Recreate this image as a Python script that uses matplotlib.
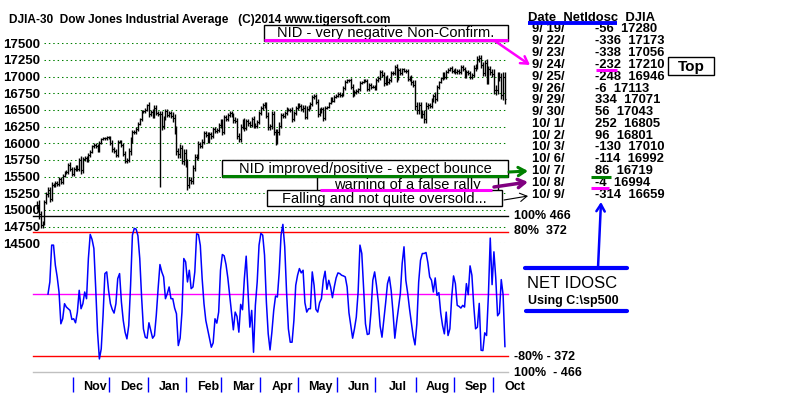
import numpy as np
import matplotlib.pyplot as plt
from matplotlib.patches import Rectangle

plt.rcParams['font.family'] = ['Liberation Sans', 'DejaVu Sans']

# DJIA daily closes, one list per month (Oct 4 2013 .. Oct 9 2014)
djia_oct13 = [15073, 14936, 14776, 14802, 15126, 15237, 15301, 15168, 15373, 15372,
              15399, 15392, 15468, 15413, 15509, 15570, 15568, 15680, 15618, 15546]
djia_nov13 = [15616, 15639, 15618, 15747, 15594, 15761, 15784, 15751, 15822, 15876,
              15962, 15976, 15967, 15901, 16010, 16065, 16073, 16073, 16097, 16086]
djia_dec13 = [16008, 15914, 15889, 15821, 16020, 16025, 15973, 15843, 15739, 15755,
              15885, 16029, 16168, 16167, 16221, 16294, 16358, 16479, 16479, 16505, 16577]
djia_jan14 = [16441, 16470, 16425, 16530, 16462, 16444, 16437, 16257, 16374, 16481,
              16418, 16459, 16415, 16373, 16197, 15879, 15837, 15929, 15739, 15849, 15699]
djia_feb14 = [15373, 15445, 15440, 15629, 15795, 15802, 15994, 15964, 16027, 16154,
              16130, 16040, 16133, 16104, 16208, 16180, 16198, 16273, 16322]
djia_mar14 = [16168, 16396, 16361, 16422, 16453, 16419, 16351, 16340, 16109, 16066,
              16248, 16337, 16223, 16332, 16303, 16277, 16368, 16268, 16264, 16323, 16458]
djia_apr14 = [16533, 16573, 16573, 16413, 16246, 16257, 16438, 16170, 16027, 16174,
              16263, 16425, 16409, 16449, 16514, 16502, 16501, 16361, 16448, 16535, 16581]
djia_may14 = [16559, 16513, 16531, 16402, 16518, 16551, 16583, 16696, 16715, 16614,
              16447, 16492, 16512, 16375, 16533, 16543, 16606, 16676, 16633, 16698, 16717]
djia_jun14 = [16744, 16722, 16737, 16837, 16924, 16944, 16946, 16844, 16735, 16776,
              16782, 16809, 16907, 16922, 16948, 16938, 16819, 16868, 16847, 16852, 16827]
djia_jul14 = [16957, 16976, 17068, 17025, 16906, 16985, 16915, 16944, 17055, 17061,
              17138, 16977, 17100, 17052, 17114, 17087, 17083, 16961, 16983, 16913, 16881, 16563]
djia_aug14 = [16493, 16570, 16430, 16444, 16369, 16554, 16570, 16561, 16652, 16713,
              16662, 16839, 16920, 16980, 17040, 17001, 17077, 17107, 17123, 17080, 17098]
djia_sep14 = [17068, 17079, 17070, 17138, 17112, 17014, 17068, 17050, 16988, 17032,
              17132, 17157, 17266, 17280, 17173, 17056, 17210, 16946, 17113, 17071, 17043]
djia_oct14 = [16805, 16801, 17010, 16992, 16719, 16994, 16659]

# extra daily range beyond open/close (points)
spread = [60, 70, 50, 40, 30, 40, 40, 50, 40, 30, 30, 30, 30, 30, 30, 20, 30, 30, 40, 30,
          30, 30, 30, 30, 60, 40, 20, 30, 30, 30, 20, 30, 30, 30, 30, 20, 20, 20, 20, 20,
          30, 40, 30, 30, 30, 20, 30, 30, 40, 30, 40, 60, 30, 30, 30, 30, 20, 20, 20, 20, 20,
          40, 30, 40, 40, 40, 30, 40, 50, 40, 30, 30, 30, 30, 50, 60, 60, 50, 60, 50, 60, 60,
          70, 50, 50, 50, 40, 40, 40, 30, 40, 30, 30, 40, 30, 40, 30, 30, 30, 30, 40,
          40, 30, 30, 30, 30, 30, 40, 40, 40, 40, 40, 30, 40, 30, 40, 30, 30, 40, 40, 30, 30,
          30, 30, 40, 40, 50, 40, 40, 50, 50, 40, 50, 30, 30, 30, 30, 20, 30, 40, 30, 30, 30,
          30, 30, 40, 40, 40, 30, 30, 30, 30, 30, 50, 40, 30, 40, 30, 20, 20, 20, 20, 20, 20,
          20, 20, 20, 30, 30, 20, 20, 30, 40, 30, 30, 20, 30, 20, 20, 20, 30, 30, 30, 20, 20,
          20, 30, 30, 30, 40, 30, 40, 30, 30, 30, 40, 50, 30, 30, 20, 20, 30, 30, 30, 40, 40, 70,
          60, 50, 50, 50, 60, 60, 40, 30, 30, 30, 50, 30, 20, 20, 30, 30, 30, 20, 20, 30, 20,
          30, 30, 30, 30, 30, 40, 30, 30, 30, 30, 40, 40, 40, 40, 40, 40, 40, 50, 50, 50, 50,
          70, 70, 60, 60, 60, 70, 70]
spike_day = 67      # Jan 10 bad print
spike_low = 15350

# Net IDOSC oscillator (first days not yet defined)
nan = float('nan')
osc_head = [nan, nan, nan, nan, nan, nan,
            0, 72, 292, 292, 172, 102, 12, -178, -148, -58,
            -78, -88, -98, -152, -148, -172, -108, 22, -88, -58,
            12, -28, 212, 356, 326, 272, 32, -228, -388, -328,
            -128, 122, 132, 22, -58, -92, -114, -58, 92, 122,
            -48, -158, -228, -268, -188, 52, 352, 392, 388, 348,
            212, -18, -208, -258, -264, -172, -218, -264, -248, -128,
            32, 176, 132, 102, -28, 2, 42, -28, -28, -84,
            -118, -308, -264, -108, 212, 192, 72, 142, 32, 42,
            132, 360, 355, 290, 92, -58, -158, -212, -264, -318,
            -292, -148, -174, -108, 142, 236, 228, 176, 96, -8,
            -118, -214, -108, -134, -228, -62, -94, 92, 226, 12,
            -198, -98, -348, -68, 72, 292, 362, 352, 232, -48,
            -238, -334, -228, -98, -12, -18, 132, 352, 416, 282,
            12, -208, -288, -288, -158, 52, 112, 152, 126, 142,
            -52, -108, -88, -88, 132, 52, -92, -108, -52, -28,
            82, 136, 28, 82, 42, -22, 42, 96, 126, 122,
            112, 108, 102, 42, -112, -188, -264, -208, -138, 12,
            292, 242, 32, -178, -242, -238, -108, 82, 132, 52,
            -48, -192, -258, -158, -52, 62, 102, 22, -108, -264,
            -168, -84, 2, 182, 282, 82, 6, -88, -168, -252,
            -304, -178, 72, 202, 242, 242, 248, 188, 102, 82,
            12, 96, -8, 8, -112, -188, -238, -108, -248, -208,
            -18, 108, 62, -68, -74, -84, -68, -78, 62, -4,
            168, 112, -68, -208, -198]

# last 15 days table
tbl_dates = ['9/ 19/', '9/ 22/', '9/ 23/', '9/ 24/', '9/ 25/', '9/ 26/', '9/ 29/', '9/ 30/',
             '10/ 1/', '10/ 2/', '10/ 3/', '10/ 6/', '10/ 7/', '10/ 8/', '10/ 9/']
tbl_nid = [-56, -336, -338, -232, -248, -6, 334, 56, 252, 96, -130, -114, 86, -4, -314]
tbl_djia = [17280, 17173, 17056, 17210, 16946, 17113, 17071, 17043, 16805, 16801,
            17010, 16992, 16719, 16994, 16659]

month_names = ['Nov', 'Dec', 'Jan', 'Feb', 'Mar', 'Apr', 'May', 'Jun', 'Jul', 'Aug', 'Sep', 'Oct']
price_ticks = list(range(14500, 17501, 250))

months_data = [djia_oct13, djia_nov13, djia_dec13, djia_jan14, djia_feb14, djia_mar14,
               djia_apr14, djia_may14, djia_jun14, djia_jul14, djia_aug14, djia_sep14, djia_oct14]
closes = np.array(sum(months_data, []), dtype=float)
osc = np.array(osc_head + tbl_nid, dtype=float)
idx = np.arange(len(closes))
month_start = np.cumsum([len(m) for m in months_data])[:-1]

W, H = 800, 397
fig = plt.figure(figsize=(W / 100, H / 100), dpi=100)


def frame(x0, y0, x1, y1):
    # pixel box (top-left origin) -> figure rect
    return [x0 / W, 1 - y1 / H, (x1 - x0) / W, (y1 - y0) / H]


X0, DX = 37, 1.835   # pixel of first bar, pixels per day


def xlim_for(a, b):
    return ((a - X0) / DX, (b - X0) / DX)


# ---- price panel
axp = fig.add_axes(frame(44, 43.3, 508, 243.3))
axp.set_xlim(*xlim_for(44, 508))
axp.set_ylim(14500, 17500)
axp.set_yticks(price_ticks)
axp.set_yticklabels([str(t) for t in price_ticks], fontweight='bold', fontsize=9.5)
axp.tick_params(axis='y', length=0, pad=3)
axp.set_xticks([])
for s in axp.spines.values():
    s.set_visible(False)
axp.patch.set_visible(False)
axp.grid(axis='y', color='#008000', ls=(0, (1.4, 2.8)), lw=0.75)

prev = np.concatenate([[closes[0]], closes[:-1]])
lo = np.minimum(prev, closes) - np.array(spread)
hi = np.maximum(prev, closes) + np.array(spread)
lo[spike_day] = spike_low
axp.vlines(idx, lo, hi, color='black', lw=1.0, clip_on=False)
axp.hlines(closes, idx, idx + 0.8, color='black', lw=0.8, clip_on=False)
axp.hlines(prev, idx - 0.8, idx, color='black', lw=0.8, clip_on=False)

# ---- oscillator panel
axo = fig.add_axes(frame(33, 216, 508, 372))
axo.set_xlim(*xlim_for(33, 508))
axo.set_ylim(-466, 466)
axo.axis('off')
axo.axhline(466, color='black', lw=1, clip_on=False)
axo.axhline(372, color='#FF0000', lw=1, clip_on=False)
axo.axhline(0, color='#FF00FF', lw=1, clip_on=False)
axo.axhline(-372, color='#FF0000', lw=1, clip_on=False)
axo.axhline(-466, color='#C0C0C0', lw=1, clip_on=False)
axo.plot(idx, osc, color='#0000FF', lw=1.1, clip_on=False)

tr = axo.get_xaxis_transform()
axo.vlines(month_start - 0.6, -0.032, -0.128, transform=tr, color='#0000FF', lw=1, clip_on=False)
for ms, name in zip(month_start, month_names):
    axo.text(ms + 11.5, -0.096, name, transform=tr, ha='center', va='center',
             fontsize=9, fontweight='bold')

# ---- overlay for annotations (pixel coords)
ov = fig.add_axes([0, 0, 1, 1])
ov.set_xlim(0, W)
ov.set_ylim(H, 0)
ov.axis('off')
ov.patch.set_visible(False)

ov.text(9, 20, 'DJIA-30  Dow Jones Industrial Average   (C)2014 www.tigersoft.com',
        fontsize=8.6, fontweight='bold', va='center')


def box(x0, y0, x1, y1, text, size=10, weight='normal'):
    ov.add_patch(Rectangle((x0, y0), x1 - x0, y1 - y0, facecolor='white',
                           edgecolor='black', lw=1, zorder=3))
    ov.text((x0 + x1) / 2, (y0 + y1) / 2 + 0.5, text, ha='center', va='center',
            fontsize=size, fontweight=weight, zorder=4)


def uline(x0, x1, y, color, lw=2.2):
    ov.plot([x0, x1], [y, y], color=color, lw=lw, solid_capstyle='butt', zorder=5)


def arrow(x0, y0, x1, y1, color, lw=1.8):
    ov.annotate('', xy=(x1, y1), xytext=(x0, y0), zorder=5,
                arrowprops=dict(arrowstyle='->,head_length=0.5,head_width=0.3',
                                color=color, lw=lw, shrinkA=0, shrinkB=0))


box(264, 25, 508, 41, 'NID - very negative Non-Confirm.', size=10.5)
uline(264, 508, 39.5, '#FF00FF')
arrow(495, 41, 530, 65, '#FF00FF')

box(222, 160, 508, 177, 'NID improved/positive - expect bounce', size=10.5)
uline(222, 508, 176, '#008000')
arrow(509, 172, 528, 171, '#008000', lw=2.2)

box(317, 177, 498, 191, 'warning of a false rally', size=10.5)
uline(320, 492, 189.5, '#FF00FF')
arrow(494, 187, 528, 182, '#800080', lw=2.5)

box(267, 190, 502, 206, 'Falling and not quite oversold...', size=10.5)
arrow(504, 200, 528, 196, 'black', lw=0.8)

# table
ov.text(528, 18, 'Date  NetIdosc  DJIA', fontsize=9.4, fontweight='bold', va='center')
uline(528, 617, 23, '#0000FF', lw=2.8)
for k, (d, n, v) in enumerate(zip(tbl_dates, tbl_nid, tbl_djia)):
    y = 29.5 + 11.8 * k
    ov.text(532, y, d, fontsize=9.4, fontweight='bold', va='center')
    ov.text(595, y, '%d  %d' % (n, v), fontsize=9.4, fontweight='bold', va='center')
uline(596, 617, 69.5, '#FF00FF')
uline(591, 611, 176.5, '#008000')
uline(591, 609, 188, '#FF00FF')

box(668, 57, 714, 75, 'Top', size=11, weight='bold')

# NET IDOSC legend block
arrow(598, 268, 601, 202, '#0000FF', lw=1.8)
ov.plot([525, 627], [268, 268], color='#0000FF', lw=3, solid_capstyle='round')
ov.text(527, 284, 'NET IDOSC', fontsize=12, va='center')
ov.text(528, 301, 'Using C:\\sp500', fontsize=9, fontweight='bold', va='center')
ov.plot([526, 627], [311, 311], color='#0000FF', lw=3, solid_capstyle='round')

# oscillator level labels
for y, s in [(216, '100% 466'), (231, '80%  372'), (357, '-80% - 372'), (373, '100%  - 466')]:
    ov.text(514, y, s, fontsize=9, fontweight='bold', va='center')

fig.savefig('out.png', dpi=100, facecolor='white')
